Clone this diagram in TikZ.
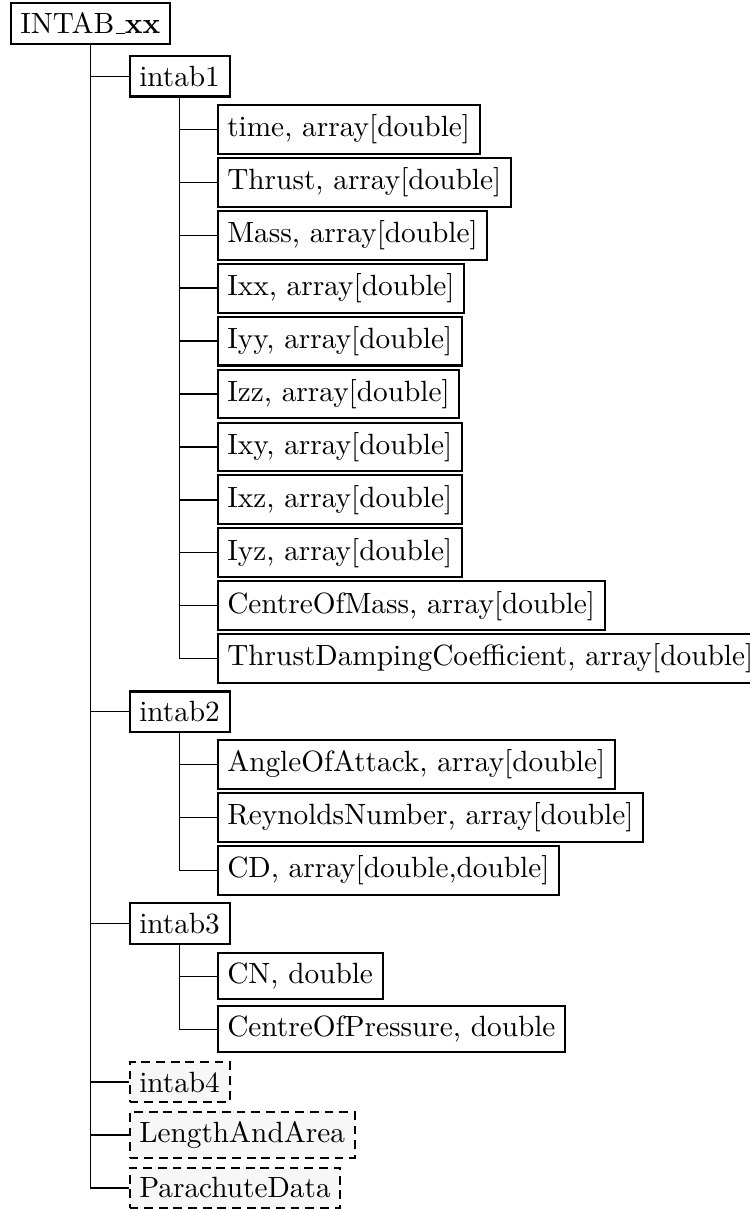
\documentclass[tikz,border=0pt]{standalone}
\newcommand{\uline}{\kern.06em\vbox{\hrule width .3em height .5pt}}
\begin{document}
\begin{tikzpicture}[x=0.3413pt, y=-0.3413pt,
  box/.style={draw, line width=0.7pt, anchor=west, inner sep=0.3333em},
  opt/.style={box, densely dashed, fill=gray!6},
  link/.style={line width=0.45pt}]
\useasboundingbox (0,0) rectangle (750,1209);
\def\rowy#1{23.5+52.93*#1}
% root
\node[box] (root) at (9.5,{\rowy{0}}) {INTAB\uline\textbf{xx}};
% first group
\node[box] (ia) at (128.5,{\rowy{1}}) {intab1};
\node[box] (time) at (216.5,{\rowy{2}}) {time, array[double]};
\node[box] (thrust) at (216.5,{\rowy{3}}) {Thrust, array[double]};
\node[box] (mass) at (216.5,{\rowy{4}}) {Mass, array[double]};
\node[box] (ixx) at (216.5,{\rowy{5}}) {Ixx, array[double]};
\node[box] (iyy) at (216.5,{\rowy{6}}) {Iyy, array[double]};
\node[box] (izz) at (216.5,{\rowy{7}}) {Izz, array[double]};
\node[box] (ixy) at (216.5,{\rowy{8}}) {Ixy, array[double]};
\node[box] (ixz) at (216.5,{\rowy{9}}) {Ixz, array[double]};
\node[box] (iyz) at (216.5,{\rowy{10}}) {Iyz, array[double]};
\node[box] (com) at (216.5,{\rowy{11}}) {CentreOfMass, array[double]};
\node[box] (tdc) at (216.5,{\rowy{12}}) {ThrustDampingCoefficient, array[double]};
% second group
\node[box] (ib) at (128.5,{\rowy{13}}) {intab2};
\node[box] (aoa) at (216.5,{\rowy{14}}) {AngleOfAttack, array[double]};
\node[box] (re) at (216.5,{\rowy{15}}) {ReynoldsNumber, array[double]};
\node[box] (cd) at (216.5,{\rowy{16}}) {CD, array[double,double]};
% third group
\node[box] (ic) at (128.5,{\rowy{17}}) {intab3};
\node[box] (cn) at (216.5,{\rowy{18}}) {CN, double};
\node[box] (cop) at (216.5,{\rowy{19}}) {CentreOfPressure, double};
% optional entries
\node[opt] (id) at (128.5,{\rowy{20}}) {intab4};
\node[opt] (la) at (128.5,{\rowy{21}}) {LengthAndArea};
\node[opt] (pd) at (128.5,{\rowy{22}}) {ParachuteData};
% connectors
\foreach \c in {ia,ib,ic,id,la,pd}
  \draw[link] (root.south) |- (\c.west);
\foreach \c in {time,thrust,mass,ixx,iyy,izz,ixy,ixz,iyz,com,tdc}
  \draw[link] (ia.south) |- (\c.west);
\foreach \c in {aoa,re,cd}
  \draw[link] (ib.south) |- (\c.west);
\foreach \c in {cn,cop}
  \draw[link] (ic.south) |- (\c.west);
\end{tikzpicture}
\end{document}
